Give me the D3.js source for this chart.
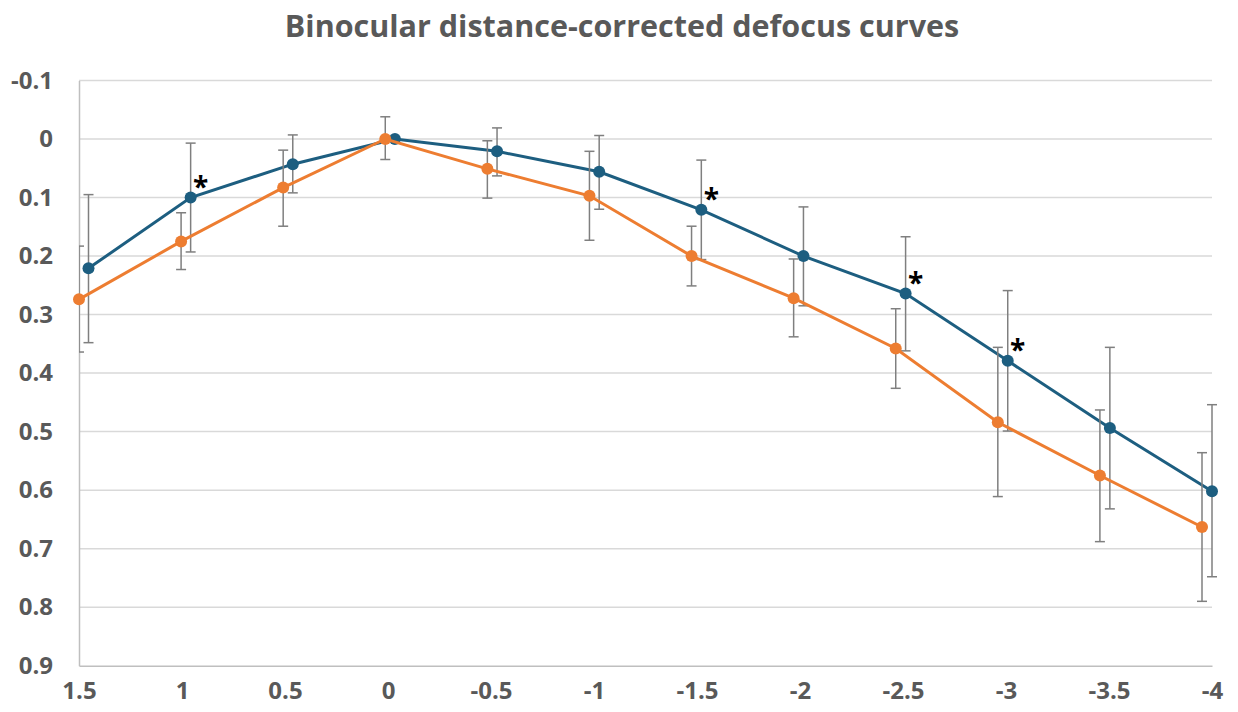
<!DOCTYPE html>
<html>
<head>
<meta charset="utf-8">
<script src="https://cdn.jsdelivr.net/npm/d3@7"></script>
<style>
  body { margin: 0; background: #fff; }
  text { font-family: "Open Sans", "Noto Sans", sans-serif; }
</style>
</head>
<body>
<div class="svg-container"></div>
<script>
// categories (defocus, D)
const defocus = [1.5, 1, 0.5, 0, -0.5, -1, -1.5, -2, -2.5, -3, -3.5, -4];
const yTicks = [-0.1, 0, 0.1, 0.2, 0.3, 0.4, 0.5, 0.6, 0.7, 0.8, 0.9];

// blue series: mean, error bar top, error bar bottom
const blueMean = [0.221, 0.100, 0.043, 0.000, 0.021, 0.056, 0.121, 0.200, 0.264, 0.379, 0.494, 0.602];
const blueLow  = [0.095, 0.007, -0.007, null, -0.019, -0.006, 0.036, 0.116, 0.167, 0.259, 0.356, 0.454];
const blueHigh = [0.348, 0.193, 0.092, null, 0.063, 0.120, 0.206, 0.285, 0.362, 0.499, 0.632, 0.748];

// orange series
const orangeMean = [0.274, 0.175, 0.083, 0.000, 0.051, 0.097, 0.200, 0.272, 0.358, 0.484, 0.575, 0.663];
const orangeLow  = [0.183, 0.126, 0.019, -0.038, 0.003, 0.021, 0.149, 0.205, 0.290, 0.356, 0.463, 0.536];
const orangeHigh = [0.364, 0.223, 0.149, 0.035, 0.101, 0.173, 0.251, 0.338, 0.426, 0.611, 0.688, 0.790];

// significant differences marked with *
const starAt = [1, -1.5, -2.5, -3];

const W = 1238, H = 712;
const plot = { left: 79, right: 1212, top: 80.5, bottom: 665.7 };
const labelFont = '"Open Sans", "Noto Sans", sans-serif';

const svg = d3.select('.svg-container')
    .append('svg')
    .attr('width', W)
    .attr('height', H);

svg.append('defs').append('clipPath')
    .attr('id', 'plot-clip')
    .append('rect')
    .attr('x', plot.left)
    .attr('y', 0)
    .attr('width', plot.right - plot.left + 10)
    .attr('height', H);

// axis scale and slightly shifted scales for each series
const xScale = d3.scaleLinear().domain([1.5, -4]).range([plot.left, plot.right]);
const xBlue = d3.scaleLinear().domain([1.5, -4]).range([plot.left + 9.5, plot.right]);
const xOrange = d3.scaleLinear().domain([1.5, -4]).range([plot.left, plot.right - 10]);

const yScale = d3.scaleLinear().domain([-0.1, 0.9]).range([plot.top, plot.bottom]);

// title
svg.append('text')
    .attr('x', 622)
    .attr('y', 37)
    .attr('text-anchor', 'middle')
    .attr('font-size', 30.5)
    .attr('font-weight', 'bold')
    .attr('fill', '#595959')
    .text('Binocular distance-corrected defocus curves');

// gridlines
svg.selectAll('.grid')
    .data(yTicks.slice(0, -1))
    .join('line')
    .attr('class', 'grid')
    .attr('x1', plot.left)
    .attr('x2', plot.right)
    .attr('y1', d => yScale(d))
    .attr('y2', d => yScale(d))
    .attr('stroke', '#d9d9d9')
    .attr('stroke-width', 1.5);

// y axis
const yAxis = d3.axisLeft(yScale)
    .tickValues(yTicks)
    .tickSize(0)
    .tickPadding(26)
    .tickFormat(d => d === 0 ? '0' : String(d));

svg.append('g')
    .attr('class', 'y-axis')
    .attr('transform', `translate(${plot.left}, 0)`)
    .call(yAxis)
    .call(g => g.select('.domain').attr('stroke', '#bfbfbf').attr('stroke-width', 1.5))
    .call(g => g.selectAll('text')
        .attr('font-family', labelFont)
        .attr('font-size', 24)
        .attr('font-weight', 'bold')
        .attr('fill', '#595959'));

// x axis
const xAxis = d3.axisBottom(xScale)
    .tickValues(defocus)
    .tickSize(0)
    .tickPadding(16)
    .tickFormat(d => String(d));

svg.append('g')
    .attr('class', 'x-axis')
    .attr('transform', `translate(0, ${plot.bottom})`)
    .call(xAxis)
    .call(g => g.select('.domain').attr('stroke', '#bfbfbf').attr('stroke-width', 1.5))
    .call(g => g.selectAll('text')
        .attr('font-family', labelFont)
        .attr('font-size', 24)
        .attr('font-weight', 'bold')
        .attr('fill', '#595959'));

const series = [
    { name: 'blue', color: '#1d5e80', x: xBlue, mean: blueMean, low: blueLow, high: blueHigh },
    { name: 'orange', color: '#ed7d31', x: xOrange, mean: orangeMean, low: orangeLow, high: orangeHigh }
];

const line = (s) => d3.line()
    .x((d, i) => s.x(defocus[i]))
    .y(d => yScale(d));

const capW = 5;

series.forEach(s => {
    const g = svg.append('g').attr('class', `series-${s.name}`);

    const bars = defocus.map((x, i) => ({ x, low: s.low[i], high: s.high[i] }))
        .filter(d => d.low !== null);

    const eb = g.append('g').attr('clip-path', 'url(#plot-clip)');
    eb.selectAll('.err')
        .data(bars)
        .join('line')
        .attr('class', 'err')
        .attr('x1', d => s.x(d.x))
        .attr('x2', d => s.x(d.x))
        .attr('y1', d => yScale(d.low))
        .attr('y2', d => yScale(d.high))
        .attr('stroke', '#7f7f7f')
        .attr('stroke-width', 1.5);

    ['low', 'high'].forEach(k => {
        eb.selectAll(`.cap-${k}`)
            .data(bars)
            .join('line')
            .attr('class', `cap-${k}`)
            .attr('x1', d => s.x(d.x) - capW)
            .attr('x2', d => s.x(d.x) + capW)
            .attr('y1', d => yScale(d[k]))
            .attr('y2', d => yScale(d[k]))
            .attr('stroke', '#7f7f7f')
            .attr('stroke-width', 1.5);
    });

    g.append('path')
        .datum(s.mean)
        .attr('d', line(s))
        .attr('fill', 'none')
        .attr('stroke', s.color)
        .attr('stroke-width', 3);

    g.selectAll('.pt')
        .data(s.mean)
        .join('circle')
        .attr('class', 'pt')
        .attr('cx', (d, i) => s.x(defocus[i]))
        .attr('cy', d => yScale(d))
        .attr('r', 6)
        .attr('fill', s.color);
});

// asterisks next to the blue points
svg.selectAll('.star')
    .data(starAt)
    .join('text')
    .attr('class', 'star')
    .attr('x', d => xBlue(d) + 10)
    .attr('y', d => yScale(blueMean[defocus.indexOf(d)]) - 1)
    .attr('text-anchor', 'middle')
    .attr('font-size', 28)
    .attr('font-weight', 'bold')
    .attr('fill', '#000')
    .text('*');
</script>
</body>
</html>
